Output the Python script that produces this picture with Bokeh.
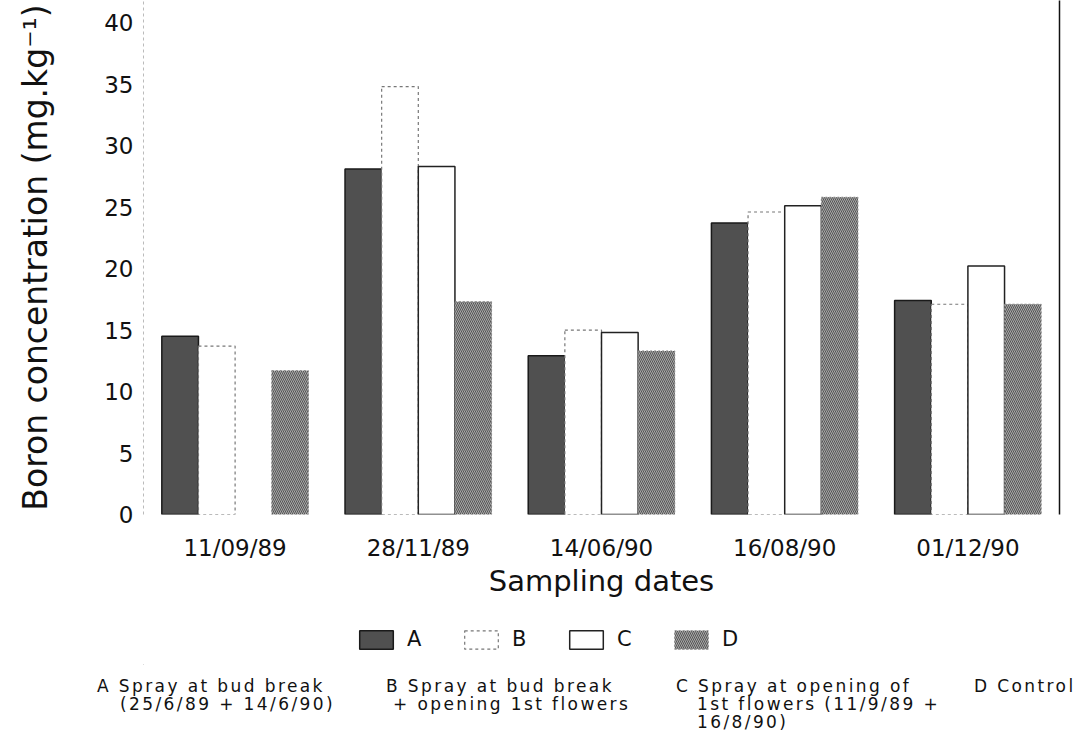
import math
from bokeh.plotting import figure
from bokeh.layouts import column
from bokeh.models import (FactorRange, Range1d, FixedTicker, LinearAxis, Legend,
                          LegendItem, ColumnDataSource, Div)
from bokeh.transform import dodge
from bokeh.embed import file_html
from bokeh.resources import INLINE

# ---- data ----
dates = ["11/09/89", "28/11/89", "14/06/90", "16/08/90", "01/12/90"]
series_a = [14.5, 28.1, 12.9, 23.7, 17.4]
series_b = [13.7, 34.8, 15.0, 24.6, 17.1]
series_c = [math.nan, 28.3, 14.8, 25.1, 20.2]
series_d = [11.7, 17.3, 13.3, 25.8, 17.1]
y_ticks = [0, 5, 10, 15, 20, 25, 30, 35, 40]
series_names = ["A", "B", "C", "D"]
descriptions = [
    ["A Spray at bud break", "(25/6/89 + 14/6/90)"],
    ["B Spray at bud break", "+ opening 1st flowers"],
    ["C Spray at opening of", "1st flowers (11/9/89 +", "16/8/90)"],
    ["D Control"],
]

FONT = "DejaVu Sans"
TOP_H = 605
LEG_H = 60
DESC_H = 734 - TOP_H - LEG_H

styles = dict(
    a=dict(fill_color="#505050", line_color="#1a1a1a", line_width=1.5),
    b=dict(fill_color="white", line_color="#777777", line_width=1.2, line_dash="3 3"),
    c=dict(fill_color="white", line_color="#222222", line_width=1.5),
    d=dict(fill_color="#a8a8a8", line_color="#888888", line_width=1, line_dash="2 2",
           hatch_pattern="\\", hatch_color="#555555", hatch_scale=4, hatch_weight=1),
)

src = ColumnDataSource(dict(date=dates, a=series_a, b=series_b, c=series_c, d=series_d))

p = figure(width=1085, height=TOP_H, output_backend="svg", toolbar_location=None,
           x_range=FactorRange(*dates, range_padding=0), y_range=Range1d(0, 41.8),
           min_border_left=143, min_border_right=26, min_border_top=0,
           min_border_bottom=TOP_H - 514,
           background_fill_color="white", border_fill_color="white")
p.outline_line_color = None
p.grid.visible = False

W = 0.2
offsets = [-0.3, -0.1, 0.1, 0.3]
for key, off in zip(["a", "b", "c", "d"], offsets):
    p.vbar(x=dodge("date", off, range=p.x_range), top=key, width=W, source=src, **styles[key])

# axes
yax = p.yaxis[0]
yax.ticker = FixedTicker(ticks=y_ticks)
yax.axis_label = "Boron concentration (mg.kg\u207b\u00b9)"
yax.axis_label_text_font = FONT
yax.axis_label_text_font_size = "33px"
yax.axis_label_text_font_style = "normal"
yax.axis_label_text_color = "#111111"
yax.axis_label_standoff = 46
yax.major_label_text_font = FONT
yax.major_label_text_font_size = "23px"
yax.major_label_text_color = "#111111"
yax.major_label_standoff = 10
yax.major_tick_out = 0
yax.major_tick_in = 0
yax.minor_tick_out = 0
yax.minor_tick_in = 0
yax.axis_line_color = "#bbbbbb"
yax.axis_line_dash = "3 3"

xax = p.xaxis[0]
xax.axis_label = "Sampling dates"
xax.axis_label_text_font = FONT
xax.axis_label_text_font_size = "29px"
xax.axis_label_text_font_style = "normal"
xax.axis_label_text_color = "#111111"
xax.axis_label_standoff = 0
xax.major_label_text_font = FONT
xax.major_label_text_font_size = "23px"
xax.major_label_text_color = "#111111"
xax.major_label_standoff = 14
xax.axis_line_color = None
xax.major_tick_line_color = None

rax = LinearAxis(ticker=FixedTicker(ticks=[]), axis_line_color="#111111", axis_line_width=1.5,
                 major_label_text_font_size="0px", major_tick_line_color=None,
                 minor_tick_line_color=None)
p.add_layout(rax, "right")

# legend strip (same bar styles, library legend; proxy bars sit outside the visible range)
q = figure(width=1085, height=LEG_H, output_backend="svg", toolbar_location=None,
           x_range=Range1d(0, 1), y_range=Range1d(0, 1),
           min_border_left=143, min_border_right=26, min_border_top=0, min_border_bottom=0,
           background_fill_color="white", border_fill_color="white")
q.axis.visible = False
q.grid.visible = False
q.outline_line_color = None
proxy = ColumnDataSource(dict(x=[-10], top=[-10]))
leg_renderers = [q.vbar(x="x", top="top", width=0.1, source=proxy, **styles[k])
                 for k in ["a", "b", "c", "d"]]
legend = Legend(items=[LegendItem(label=n, renderers=[r]) for n, r in zip(series_names, leg_renderers)],
                orientation="horizontal", location=(212, 14),
                glyph_width=42, glyph_height=23, label_standoff=10, spacing=33,
                padding=0, margin=0, border_line_color=None, background_fill_alpha=0,
                label_text_font=FONT, label_text_font_size="21px", label_text_color="#111111",
                label_height=23)
q.add_layout(legend, "center")

# description block
block_x = [97, 386, 676, 974]
line_indent = [[0, 23], [0, 7], [0, 21, 21], [0]]
spans = []
for i, lines in enumerate(descriptions):
    for j, t in enumerate(lines):
        spans.append(
            f'<div style="position:absolute;left:{block_x[i] + line_indent[i][j]}px;'
            f'top:{12 + 18 * j}px;white-space:pre;">{t}</div>')
desc = Div(text=(f'<div style="position:relative;width:1085px;height:{DESC_H}px;'
                 f"font-family:'{FONT}';font-size:17px;line-height:18px;letter-spacing:2.4px;"
                 f'color:#111111;">' + "".join(spans) + "</div>"),
           width=1085, height=DESC_H, margin=0)

open("out.html", "w").write(file_html(column(p, q, desc, spacing=0), INLINE))
